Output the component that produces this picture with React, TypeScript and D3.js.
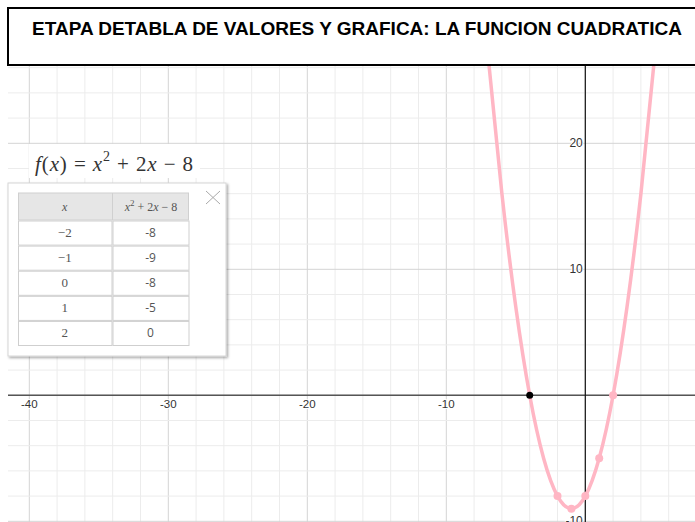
import React from "react";
import * as d3 from "d3";

// values
const curveX = [-8, -7, -6, -5, -4, -3, -2, -1, 0, 1, 2, 3, 4, 5, 6];
const curveY = [40, 27, 16, 7, 0, -5, -8, -9, -8, -5, 0, 7, 16, 27, 40];
const tableX = [-2, -1, 0, 1, 2];
const tableY = [-8, -9, -8, -5, 0];
const rootX = [-4];
const rootY = [0];
const xTicks = [-40, -30, -20, -10];
const yTicks = [-10, 10, 20];

const W = 695;
const H = 522;

function fmtMinus(v: number) {
  return v < 0 ? "\u2212" + Math.abs(v) : String(v);
}

export default function App() {
  const x = d3.scaleLinear().domain([-40, 0]).range([29.3, 585.3]);
  const y = d3.scaleLinear().domain([0, 20]).range([395.3, 143.3]);

  const plot = { left: 8, right: W, top: 66, bottom: H };
  const minorX = d3.range(-42, 10, 2);
  const minorY = d3.range(-10, 28, 2);

  const line = d3
    .line<number>()
    .x((d, i) => x(curveX[i]))
    .y((d) => y(d))
    .curve(d3.curveCardinal.tension(0));

  // table layout
  const rows = d3
    .scaleBand<number>()
    .domain(d3.range(tableX.length))
    .range([220.5, 345])
    .paddingInner(0.04);
  const colEdges = [18, 111.5, 188.5];

  const labelFont = "'Liberation Sans', Arial, sans-serif";
  const serif = "'Liberation Serif', 'Times New Roman', serif";

  return (
    <svg
      width={W}
      height={H}
      style={{ position: "absolute", left: 0, top: 0, background: "#fff" }}
    >
      <defs>
        <clipPath id="plotclip">
          <rect x={plot.left} y={plot.top} width={plot.right - plot.left} height={plot.bottom - plot.top} />
        </clipPath>
        <filter id="shadow" x="-10%" y="-10%" width="130%" height="130%">
          <feDropShadow dx="1.5" dy="1.5" stdDeviation="1.2" floodColor="#000" floodOpacity="0.35" />
        </filter>
      </defs>

      <g clipPath="url(#plotclip)">
        {/* grid */}
        {minorX.map((v) => (
          <line
            key={"gx" + v}
            x1={x(v)}
            x2={x(v)}
            y1={plot.top}
            y2={plot.bottom}
            stroke={v % 10 === 0 ? "#d4d4d4" : "#ececec"}
            strokeWidth={1}
          />
        ))}
        {minorY.map((v) => (
          <line
            key={"gy" + v}
            x1={plot.left}
            x2={plot.right}
            y1={y(v)}
            y2={y(v)}
            stroke={v % 10 === 0 ? "#d4d4d4" : "#ececec"}
            strokeWidth={1}
          />
        ))}

        {/* axes */}
        <line x1={plot.left} x2={plot.right} y1={y(0)} y2={y(0)} stroke="#555" strokeWidth={1.5} />
        <line x1={x(0)} x2={x(0)} y1={plot.top} y2={plot.bottom} stroke="#111" strokeWidth={1.2} />

        {/* tick labels */}
        {xTicks.map((t) => (
          <text
            key={"xt" + t}
            x={x(t)}
            y={y(0) + 13}
            textAnchor="middle"
            fontFamily={labelFont}
            fontSize={11.5}
            fill="#333"
            stroke="#fff"
            strokeWidth={2}
            paintOrder="stroke"
          >
            {t}
          </text>
        ))}
        {yTicks.map((t) => (
          <text
            key={"yt" + t}
            x={x(0) - 2.5}
            y={y(t) + 4}
            textAnchor="end"
            fontFamily={labelFont}
            fontSize={12}
            fill="#333"
            stroke="#fff"
            strokeWidth={2}
            paintOrder="stroke"
          >
            {t}
          </text>
        ))}

        {/* curve */}
        <path d={line(curveY) || ""} fill="none" stroke="#ffb6c4" strokeWidth={3.5} strokeLinejoin="round" />
        {tableX.map((v, i) => (
          <circle key={"p" + i} cx={x(v)} cy={y(tableY[i])} r={4} fill="#ffb6c4" />
        ))}
        {rootX.map((v, i) => (
          <circle key={"r" + i} cx={x(v)} cy={y(rootY[i])} r={3.5} fill="#000" />
        ))}
      </g>

      {/* expression */}
      <rect x={29} y={144} width={171} height={34} fill="#fff" />
      <text x={35} y={171} fontFamily={serif} fontSize={21} fill="#333" textLength={158} lengthAdjust="spacing">
        <tspan fontStyle="italic">f</tspan>(<tspan fontStyle="italic">x</tspan>) ={" "}
        <tspan fontStyle="italic">x</tspan>
        <tspan dy={-10} fontSize={14}>2</tspan>
        <tspan dy={10}> + 2</tspan>
        <tspan fontStyle="italic">x</tspan> {"\u2212"} 8
      </text>

      {/* table panel */}
      <rect x={8} y={183} width={218} height={173} fill="#fff" stroke="#d6d6d6" strokeWidth={1} filter="url(#shadow)" />
      <line x1={206} y1={191} x2={220} y2={204} stroke="#aaa" strokeWidth={1} />
      <line x1={220} y1={191} x2={206} y2={204} stroke="#aaa" strokeWidth={1} />

      <rect x={18.5} y={193} width={170} height={27} fill="#e6e6e6" stroke="#d0d0d0" />
      <line x1={colEdges[1] + 1} x2={colEdges[1] + 1} y1={193} y2={220} stroke="#d0d0d0" />
      <text
        x={(colEdges[0] + colEdges[1]) / 2}
        y={211}
        textAnchor="middle"
        fontFamily={serif}
        fontStyle="italic"
        fontSize={12}
        fill="#555"
      >
        x
      </text>
      <text
        x={(colEdges[1] + colEdges[2]) / 2 + 1}
        y={211}
        textAnchor="middle"
        fontFamily={serif}
        fontSize={12}
        fill="#555"
      >
        <tspan fontStyle="italic">x</tspan>
        <tspan dy={-5} fontSize={9}>2</tspan>
        <tspan dy={5}> + 2</tspan>
        <tspan fontStyle="italic">x</tspan> {"\u2212"} 8
      </text>

      {tableX.map((v, i) => {
        const ry = rows(i) || 0;
        const rh = rows.bandwidth();
        const w0 = colEdges[1] - colEdges[0];
        const w1 = colEdges[2] - colEdges[1] - 1;
        const c1 = colEdges[1] + 1;
        return (
          <g key={"row" + i}>
            <rect x={colEdges[0] + 0.5} y={ry + 0.5} width={w0} height={rh} fill="#fff" stroke="#cfcfcf" />
            <rect x={c1 + 0.5} y={ry + 0.5} width={w1} height={rh} fill="#fff" stroke="#cfcfcf" />
            <text
              x={colEdges[0] + w0 / 2}
              y={ry + rh / 2 + 4.5}
              textAnchor="middle"
              fontFamily={serif}
              fontSize={13}
              fill="#555"
            >
              {fmtMinus(v)}
            </text>
            <text
              x={c1 + w1 / 2}
              y={ry + rh / 2 + 4.5}
              textAnchor="middle"
              fontFamily="'Open Sans', sans-serif"
              fontSize={12}
              fill="#555"
            >
              {tableY[i]}
            </text>
          </g>
        );
      })}

      {/* title */}
      <rect x={8} y={8} width={W} height={57} fill="#fff" stroke="#000" strokeWidth={2} />
      <text
        x={357}
        y={35}
        textAnchor="middle"
        fontFamily={labelFont}
        fontWeight="bold"
        fontSize={19}
        fill="#000"
      >
        ETAPA DETABLA DE VALORES Y GRAFICA: LA FUNCION CUADRATICA
      </text>
    </svg>
  );
}
